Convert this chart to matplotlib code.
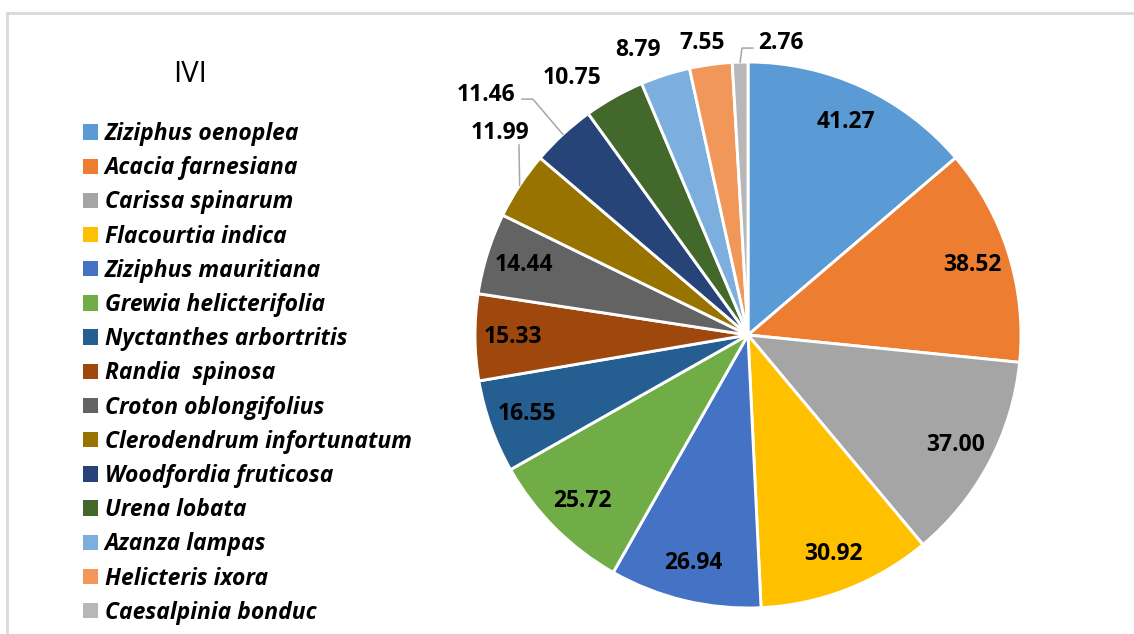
import matplotlib.pyplot as plt
import numpy as np
from matplotlib.lines import Line2D

plt.rcParams['font.family'] = ['Open Sans', 'DejaVu Sans']

species = ["Ziziphus oenoplea", "Acacia farnesiana", "Carissa spinarum",
           "Flacourtia indica", "Ziziphus mauritiana", "Grewia helicterifolia",
           "Nyctanthes arbortritis", "Randia  spinosa", "Croton oblongifolius",
           "Clerodendrum infortunatum", "Woodfordia fruticosa", "Urena lobata",
           "Azanza lampas", "Helicteris ixora", "Caesalpinia bonduc"]
ivi = [41.27, 38.52, 37.00, 30.92, 26.94, 25.72, 16.55, 15.33, 14.44,
       11.99, 11.46, 10.75, 8.79, 7.55, 2.76]
colors = ["#5B9BD5", "#ED7D31", "#A5A5A5", "#FFC000", "#4472C4", "#70AD47",
          "#255E91", "#9E480E", "#636363", "#997300", "#264478", "#43682B",
          "#7CAFDD", "#F1975A", "#B7B7B7"]

# labels placed outside the pie (index -> text position, elbow points)
outside = {
    9: ((-0.910, 0.740), [(-0.839, 0.696)]),
    10: ((-0.960, 0.879), [(-0.788, 0.864), (-0.828, 0.864)]),
    11: ((-0.645, 0.941), []),
    12: ((-0.403, 1.044), []),
    13: ((-0.168, 1.070), []),
    14: ((0.121, 1.070), [(-0.022, 1.051), (0.018, 1.051)]),
}
leader_idx = [9, 10, 14]

fig = plt.figure(figsize=(11.34, 6.34), dpi=100)
W, H = 1134, 634
cx, cy, R = 748, 335, 273
ax = fig.add_axes([(cx - R) / W, (H - cy - R) / H, 2 * R / W, 2 * R / H])

wedges, _ = ax.pie(ivi, colors=colors, startangle=90, counterclock=False,
                   radius=1, wedgeprops=dict(edgecolor='white', linewidth=2.1))
ax.set_xlim(-1, 1)
ax.set_ylim(-1, 1)
ax.set_aspect('equal')
ax.axis('off')

for i, (w, v) in enumerate(zip(wedges, ivi)):
    mid = np.deg2rad((w.theta1 + w.theta2) / 2)
    txt = f"{v:.2f}"
    if i in outside:
        (tx, ty), elbows = outside[i]
        ax.text(tx, ty, txt, ha='center', va='center', fontsize=16.5,
                fontweight='bold', color='black', clip_on=False)
        if i in leader_idx:
            pts = [(np.cos(mid), np.sin(mid))] + elbows
            xs = [p[0] for p in pts]
            ys = [p[1] for p in pts]
            ax.plot(xs, ys, color='#A6A6A6', lw=1.1, clip_on=False)
    else:
        r = 0.86
        ax.text(r * np.cos(mid), r * np.sin(mid), txt, ha='center', va='center',
                fontsize=16.5, fontweight='bold', color='black')

fig.text(190 / W, 1 - 74 / H, "IVI", ha='center', va='center', fontsize=21)

leg = fig.legend(wedges, species, loc='upper left',
                 bbox_to_anchor=(83 / W, 1 - 122 / H), frameon=False,
                 prop=dict(size=16.5, weight='bold', style='italic'),
                 handlelength=0.65, handleheight=0.65, handletextpad=0.3,
                 labelspacing=0.445, borderpad=0, borderaxespad=0)
for h in leg.legend_handles:
    h.set_edgecolor('none')

# chart frame
fig.add_artist(Line2D([7 / W, 1], [1 - 12.5 / H] * 2, color='#D9D9D9', lw=2))
fig.add_artist(Line2D([7 / W] * 2, [0, 1 - 12.5 / H], color='#D9D9D9', lw=2))

fig.savefig("out.png", dpi=100)
